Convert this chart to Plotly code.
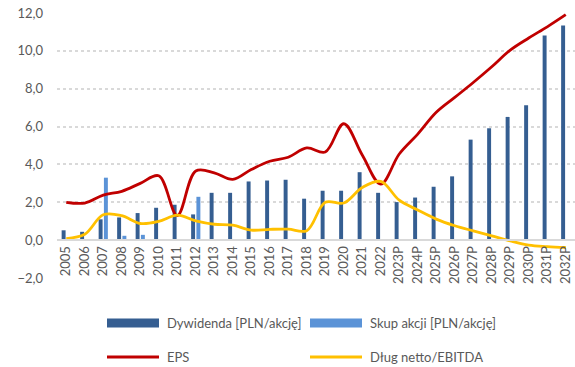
import plotly.graph_objects as go

# Years (historical + forecast "P")
years = ["2005", "2006", "2007", "2008", "2009", "2010", "2011", "2012", "2013",
         "2014", "2015", "2016", "2017", "2018", "2019", "2020", "2021", "2022",
         "2023P", "2024P", "2025P", "2026P", "2027P", "2028P", "2029P", "2030P",
         "2031P", "2032P"]

# Dividend per share [PLN]
dividend = [0.52, 0.44, 1.10, 1.20, 1.43, 1.71, 1.87, 1.36, 2.50, 2.50, 3.10, 3.15,
            3.19, 2.19, 2.61, 2.61, 3.59, 2.50, 2.01, 2.25, 2.82, 3.37, 5.31, 5.91,
            6.51, 7.12, 10.81, 11.34]

# Share buyback per share [PLN]
buyback = [None, None, 3.30, 0.23, 0.28, None, None, 2.29, None, None, None, None,
           None, None, None, None, None, None, None, None, None, None, None, None,
           None, None, None, None]

# Earnings per share
eps = [2.00, 1.96, 2.38, 2.58, 3.00, 3.40, 1.30, 3.65, 3.56, 3.21, 3.73, 4.17,
       4.38, 4.87, 4.66, 6.15, 4.50, 2.96, 4.55, 5.60, 6.75, 7.54, 8.33, 9.16,
       10.04, 10.68, 11.27, 11.91]

# Net debt / EBITDA
net_debt_ebitda = [0.08, 0.31, 1.34, 1.29, 0.88, 0.99, 1.32, 1.02, 0.84, 0.79,
                   0.53, 0.57, 0.58, 0.50, 2.00, 1.96, 2.78, 3.10, 2.11, 1.59,
                   1.11, 0.76, 0.49, 0.23, -0.04, -0.26, -0.34, -0.39]

y_ticks = [-2, 0, 2, 4, 6, 8, 10, 12]

# Colours and fonts
C_DIV = "#355E91"
C_BUY = "#5B93D7"
C_EPS = "#C00000"
C_DEBT = "#FFC000"
C_TEXT = "#595959"
C_GRID = "#D9D9D9"
FONT = "Lato, Open Sans, sans-serif"

W, H = 575, 367
M_L, M_R, M_T, M_B = 57, 0, 13, 89
PLOT_W = W - M_L - M_R
PLOT_H = H - M_T - M_B


def px_x(x):
    """Pixel x -> paper fraction."""
    return (x - M_L) / PLOT_W


def px_y(y):
    """Pixel y (from top) -> paper fraction."""
    return (H - M_B - y) / PLOT_H


fig = go.Figure()

fig.add_trace(go.Bar(x=years, y=dividend, name="Dywidenda [PLN/akcję]",
                     marker=dict(color=C_DIV, line=dict(width=0))))
fig.add_trace(go.Bar(x=years, y=buyback, name="Skup akcji [PLN/akcję]",
                     marker=dict(color=C_BUY, line=dict(width=0))))
fig.add_trace(go.Scatter(x=years, y=eps, name="EPS", mode="lines",
                         line=dict(color=C_EPS, width=2.8, shape="spline", smoothing=1)))
fig.add_trace(go.Scatter(x=years, y=net_debt_ebitda, name="Dług netto/EBITDA", mode="lines",
                         line=dict(color=C_DEBT, width=2.8, shape="spline", smoothing=1)))

ymin, ymax = y_ticks[0], y_ticks[-1]

fig.update_layout(
    width=W, height=H,
    margin=dict(l=M_L, r=M_R, t=M_T, b=M_B, pad=0),
    paper_bgcolor="white", plot_bgcolor="white",
    separators=", ",
    barmode="group", bargap=0.43, bargroupgap=0.25,
    showlegend=False,
    font=dict(family=FONT, size=13, color=C_TEXT),
    xaxis=dict(
        type="category", range=[-0.5, len(years) - 0.5],
        anchor="free", position=(0 - ymin) / (ymax - ymin),
        showgrid=False, zeroline=False,
        showline=True, linecolor=C_GRID, linewidth=1.5,
        ticks="", tickangle=-90, tickfont=dict(size=13, color=C_TEXT),
    ),
    yaxis=dict(
        range=[ymin, ymax], tickvals=y_ticks, tickformat=".1f",
        showgrid=True, gridcolor=C_GRID, gridwidth=1.5, griddash="dot",
        zeroline=False, showline=False, ticks="",
        ticklabelstandoff=13, tickfont=dict(size=13, color=C_TEXT),
    ),
)

# Legend drawn as two rows of wide swatches with labels
legend_items = [
    ("Dywidenda [PLN/akcję]", C_DIV, "rect", 107, 323),
    ("Skup akcji [PLN/akcję]", C_BUY, "rect", 310, 323),
    ("EPS", C_EPS, "line", 107, 357),
    ("Dług netto/EBITDA", C_DEBT, "line", 310, 357),
]
SW = 52
for label, color, kind, x0, yc in legend_items:
    if kind == "rect":
        fig.add_shape(type="rect", xref="paper", yref="paper",
                      x0=px_x(x0), x1=px_x(x0 + SW), y0=px_y(yc + 4.5), y1=px_y(yc - 4.5),
                      fillcolor=color, line=dict(width=0))
    else:
        fig.add_shape(type="line", xref="paper", yref="paper",
                      x0=px_x(x0), x1=px_x(x0 + SW), y0=px_y(yc), y1=px_y(yc),
                      line=dict(color=color, width=2.8))
    fig.add_annotation(text=label, xref="paper", yref="paper",
                       x=px_x(x0 + SW + 6), y=px_y(yc), xanchor="left", yanchor="middle",
                       showarrow=False, font=dict(family=FONT, size=13, color=C_TEXT))

fig.write_html("out.html")
